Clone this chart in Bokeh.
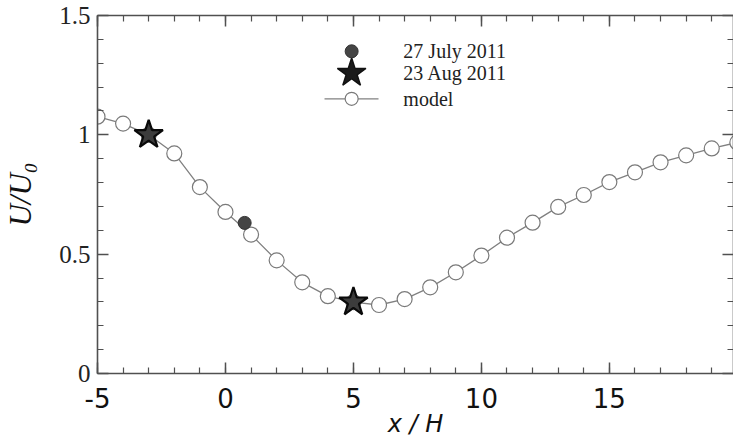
from bokeh.plotting import figure
from bokeh.models import Range1d, LinearAxis, FixedTicker, CustomJSTickFormatter
from bokeh.embed import file_html
from bokeh.resources import INLINE
from bokeh.core.properties import value

# ---- data ----
model_x = [-5, -4, -3, -2, -1, 0, 1, 2, 3, 4, 5, 6, 7, 8, 9, 10,
           11, 12, 13, 14, 15, 16, 17, 18, 19, 20]
model_u = [1.076, 1.047, 1.000, 0.922, 0.781, 0.677, 0.582, 0.474, 0.382,
           0.324, 0.299, 0.287, 0.312, 0.361, 0.424, 0.494, 0.569, 0.632,
           0.698, 0.748, 0.802, 0.843, 0.885, 0.914, 0.943, 0.968]
july_x = [0.75]
july_u = [0.631]
aug_x = [-3, 5]
aug_u = [1.0, 0.299]

x_major = [-5, 0, 5, 10, 15, 20]
x_tick_labels = ["-5", "0", "5", "10", "15", "20"]
x_minor = [-5, -4, -3, -2, -1, 0, 1, 2, 3, 4, 5, 6, 7, 8, 9, 10,
           11, 12, 13, 14, 15, 16, 17, 18, 19, 20]
y_major = [0, 0.5, 1, 1.5]
y_tick_labels = ["0", "0.5", "1", "1.5"]
y_minor = [0, 0.1, 0.2, 0.3, 0.4, 0.5, 0.6, 0.7, 0.8, 0.9,
           1.0, 1.1, 1.2, 1.3, 1.4, 1.5]
legend_labels = ["27 July 2011", "23 Aug 2011", "model"]

# legend placement (data coordinates)
leg_key_x = 4.93
leg_text_x = 6.95
leg_row_y = [1.350, 1.259, 1.151]
leg_line_x = [3.87, 5.98]

AX = "#505050"

p = figure(width=733, height=440,
           x_range=Range1d(-5, 19.85), y_range=Range1d(0, 1.5),
           output_backend="svg", toolbar_location=None,
           min_border_left=97, min_border_right=0,
           min_border_top=15, min_border_bottom=64)
p.outline_line_color = None
p.grid.visible = False
p.background_fill_color = "white"


def style(ax):
    ax.axis_line_color = AX
    ax.axis_line_width = 1.6
    ax.major_tick_line_color = AX
    ax.major_tick_line_width = 1.5
    ax.minor_tick_line_color = AX
    ax.minor_tick_line_width = 1.2
    ax.major_tick_in = 11
    ax.major_tick_out = 0
    ax.minor_tick_in = 6
    ax.minor_tick_out = 0


xt = FixedTicker(ticks=x_major, minor_ticks=x_minor)
yt = FixedTicker(ticks=y_major, minor_ticks=y_minor)
blank = CustomJSTickFormatter(code="return ''")

xa = p.xaxis[0]
xa.ticker = xt
style(xa)
xa.major_label_overrides = {v: s for v, s in zip(x_major, x_tick_labels)}
xa.major_label_text_font = "DejaVu Sans"
xa.major_label_text_font_size = "26px"
xa.major_label_text_color = "#111111"
xa.major_label_standoff = 14
xa.axis_label = "x / H"
xa.axis_label_text_font = "DejaVu Sans"
xa.axis_label_text_font_style = "italic"
xa.axis_label_text_font_size = "24px"
xa.axis_label_text_color = "#111111"
xa.axis_label_standoff = -1

ya = p.yaxis[0]
ya.ticker = yt
style(ya)
ya.major_label_overrides = {v: s for v, s in zip(y_major, y_tick_labels)}
ya.major_label_text_font = "Liberation Serif"
ya.major_label_text_font_size = "25px"
ya.major_label_text_color = "#222222"
ya.major_label_standoff = 7
ya.axis_label = "U/U\u2080"
ya.axis_label_text_font = "Liberation Serif"
ya.axis_label_text_font_style = "italic"
ya.axis_label_text_font_size = "31px"
ya.axis_label_text_color = "#111111"
ya.axis_label_standoff = 18

top = LinearAxis(ticker=xt, formatter=blank)
style(top)
top.major_label_standoff = 0
top.major_label_text_font_size = "6px"
p.add_layout(top, "above")

right = LinearAxis(ticker=yt, formatter=blank)
style(right)
right.major_label_standoff = 0
right.major_label_text_font_size = "6px"
p.add_layout(right, "right")

# model curve
p.line(model_x, model_u, line_color="#808080", line_width=1.3)
p.scatter(model_x, model_u, marker="circle", size=15, fill_color="white",
          line_color="#7a7a7a", line_width=1.2)
# measurements
p.scatter(july_x, july_u, marker="circle", size=13, fill_color="#454545",
          line_color="#333333", line_width=1)
p.scatter(aug_x, aug_u, marker="star", size=30, fill_color="#3c3c3c",
          line_color="#0a0a0a", line_width=2.2)

# manual legend
p.scatter([leg_key_x], [leg_row_y[0]], marker="circle", size=13,
          fill_color="#454545", line_color="#333333")
p.scatter([leg_key_x], [leg_row_y[1]], marker="star", size=30,
          fill_color="#1a1a1a", line_color="#111111", line_width=1.5)
p.line(leg_line_x, [leg_row_y[2], leg_row_y[2]], line_color="#808080",
       line_width=1.3)
p.scatter([leg_key_x], [leg_row_y[2]], marker="circle", size=13,
          fill_color="white", line_color="#7a7a7a", line_width=1.2)
p.text([leg_text_x] * 3, leg_row_y, text=legend_labels,
       text_font=value("Liberation Serif"), text_font_size="20px",
       text_color="#222222", text_baseline="middle", text_align="left")

open("out.html", "w").write(file_html(p, INLINE))
